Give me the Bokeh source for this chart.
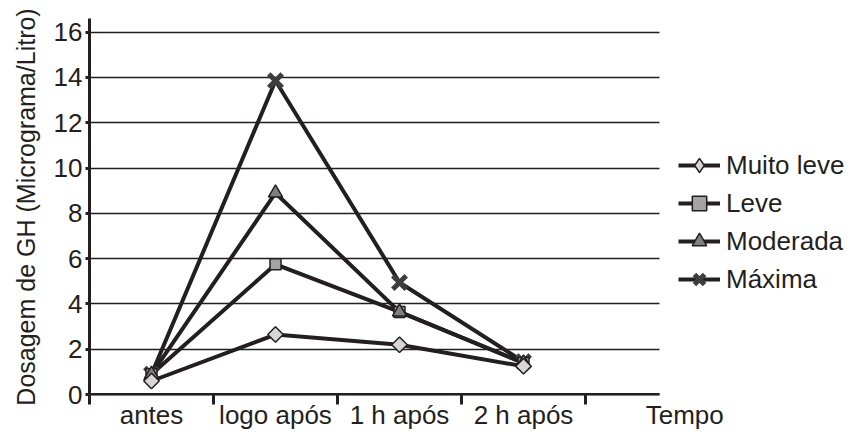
import numpy as np
from bokeh.plotting import figure
from bokeh.models import FixedTicker, Legend, LegendItem, Range1d, Grid
from bokeh.embed import file_html
from bokeh.resources import INLINE

# ---- data ----
categories = ["antes", "logo após", "1 h após", "2 h após"]
series_names = ["Muito leve", "Leve", "Moderada", "Máxima"]
muito_leve = [0.6, 2.65, 2.2, 1.25]
leve = [0.9, 5.75, 3.65, 1.4]
moderada = [0.9, 8.9, 3.65, 1.4]
maxima = [0.9, 13.85, 4.95, 1.45]
y_ticks = [0, 2, 4, 6, 8, 10, 12, 14, 16]
x_title = "Tempo"
y_title = "Dosagem de GH (Micrograma/Litro)"

INK = "#231f20"
FONT = "Liberation Sans"
FS = "26px"

W, H = 852, 440
LEFT, TOP, BOTTOM, RIGHT = 89, 18, 45, 2
SLOT = 124.0                       # pixels per category slot
frame_w = W - LEFT - RIGHT
x_axis_end = 4.6                   # axis line stops a bit after the last slot
x_title_pos = 4.8                  # "Tempo" sits at the right end, level with the labels
x_end = frame_w / SLOT
y_top = 16.6
y_bottom = -0.04                   # tiny pad so the y = 0 baseline grid line is drawn

xs = [i + 0.5 for i in range(len(categories))]
bounds = list(range(len(categories) + 1))

p = figure(width=W, height=H, output_backend="svg", toolbar_location=None,
           x_range=Range1d(0, x_end), y_range=Range1d(y_bottom, y_top),
           min_border_left=LEFT, min_border_right=RIGHT, min_border_top=TOP,
           min_border_bottom=BOTTOM)
p.outline_line_color = None
p.background_fill_color = "white"
p.border_fill_color = "white"

# horizontal grid
p.xgrid.visible = False
p.ygrid.grid_line_color = INK
p.ygrid.grid_line_width = 1.5
p.ygrid.cross_bounds = (0, x_axis_end)

# baseline (thick x axis line) as a single-line grid at y = 0
base = Grid(dimension=1, ticker=FixedTicker(ticks=[0]), cross_bounds=(0, x_axis_end),
            grid_line_color=INK, grid_line_width=3)
p.add_layout(base)

# x axis (labels + separator ticks; its line is the baseline grid above)
xa = p.xaxis[0]
xa.bounds = (0, x_title_pos + 0.01)
xa.ticker = FixedTicker(ticks=xs + [x_title_pos], minor_ticks=bounds)
overrides = {x: c for x, c in zip(xs, categories)}
overrides[x_title_pos] = x_title
xa.major_label_overrides = overrides
xa.major_tick_out = 0
xa.major_tick_in = 0
xa.minor_tick_out = 9
xa.minor_tick_in = 1
xa.minor_tick_line_color = INK
xa.minor_tick_line_width = 3
xa.axis_line_color = None
xa.major_label_standoff = -5
xa.major_label_text_font = FONT
xa.major_label_text_font_size = FS
xa.major_label_text_color = INK

# y axis
ya = p.yaxis[0]
ya.bounds = (0, y_top)
ya.ticker = FixedTicker(ticks=y_ticks, minor_ticks=[])
ya.major_tick_out = 4
ya.major_tick_in = 0
ya.major_tick_line_color = INK
ya.major_tick_line_width = 3
ya.axis_line_color = INK
ya.axis_line_width = 3
ya.major_label_standoff = 3
ya.major_label_text_font = FONT
ya.major_label_text_font_size = FS
ya.major_label_text_color = INK
ya.axis_label = y_title
ya.axis_label_text_font = FONT
ya.axis_label_text_font_size = "25px"
ya.axis_label_text_font_style = "normal"
ya.axis_label_text_color = INK
ya.axis_label_standoff = 11

all_series = [muito_leve, leve, moderada, maxima]
styles = [
    dict(marker="square", size=11, angle=np.pi / 4, fill_color="#d6d6d6", line_color=INK, line_width=1.5),
    dict(marker="square", size=11, angle=0, fill_color="#a3a3a3", line_color=INK, line_width=1.5),
    dict(marker="triangle", size=14, angle=0, fill_color="#808080", line_color=INK, line_width=1.5),
    dict(marker="x", size=19, angle=0, fill_color=None, line_color="#3d3d3d", line_width=5),
]

line_rs = {}
for idx in [3, 2, 1, 0]:
    line_rs[idx] = p.line(xs, all_series[idx], line_color=INK, line_width=4, line_join="miter")

marker_rs = {}
for idx in [3, 1, 2, 0]:
    st = styles[idx]
    marker_rs[idx] = p.scatter(xs, all_series[idx], marker=st["marker"], size=st["size"],
                               angle=st["angle"], fill_color=st["fill_color"],
                               line_color=st["line_color"], line_width=st["line_width"])

# legend swatch for the rotated-square series (legend glyphs ignore marker angle)
diamond_key = p.scatter([np.nan], [np.nan], marker="diamond", size=11,
                        fill_color="#d6d6d6", line_color=INK, line_width=1.5)

legend_markers = {0: diamond_key, 1: marker_rs[1], 2: marker_rs[2], 3: marker_rs[3]}
items = [LegendItem(label=series_names[i], renderers=[line_rs[i], legend_markers[i]]) for i in range(4)]
legend = Legend(items=items, location=(589, 98), orientation="vertical",
                border_line_color=None, background_fill_alpha=0,
                padding=0, margin=0, spacing=2,
                glyph_width=42, glyph_height=36, label_height=26,
                label_standoff=6, label_text_font=FONT, label_text_font_size=FS,
                label_text_color=INK)
p.add_layout(legend)

open("out.html", "w").write(file_html(p, INLINE))
